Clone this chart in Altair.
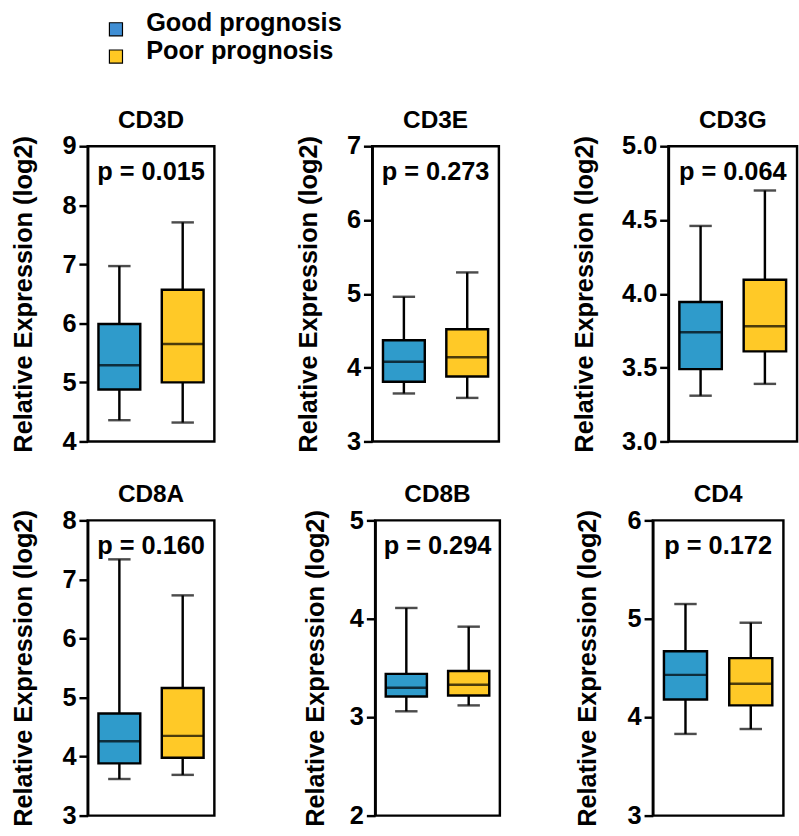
import altair as alt
import pandas as pd

FONT = "Liberation Sans"

groups = ["Good prognosis", "Poor prognosis"]
colors = ["#2F9BCB", "#FFC927"]
legend_colors = ["#3F8ED4", "#FFC923"]

genes = ["CD3D", "CD3E", "CD3G", "CD8A", "CD8B", "CD4"]
p_labels = ["p = 0.015", "p = 0.273", "p = 0.064", "p = 0.160", "p = 0.294", "p = 0.172"]
y_domains = [[4, 9], [3, 7], [3.0, 5.0], [3, 8], [2, 5], [3, 6]]
y_ticks = [[4, 5, 6, 7, 8, 9], [3, 4, 5, 6, 7], [3.0, 3.5, 4.0, 4.5, 5.0],
           [3, 4, 5, 6, 7, 8], [2, 3, 4, 5], [3, 4, 5, 6]]
y_formats = ["d", "d", ".1f", "d", "d", "d"]

# box-plot summaries (per gene): whisker low, Q1, median, Q3, whisker high
good_low = [4.36, 3.65, 3.31, 3.62, 3.06, 3.83]
good_q1 = [4.88, 3.81, 3.49, 3.885, 3.21, 4.18]
good_med = [5.29, 4.08, 3.74, 4.26, 3.30, 4.43]
good_q3 = [5.99, 4.37, 3.945, 4.73, 3.44, 4.67]
good_high = [6.97, 4.96, 4.46, 7.34, 4.11, 5.15]

poor_low = [4.32, 3.59, 3.39, 3.69, 3.12, 3.88]
poor_q1 = [5.00, 3.88, 3.61, 3.98, 3.22, 4.12]
poor_med = [5.65, 4.14, 3.78, 4.35, 3.33, 4.34]
poor_q3 = [6.57, 4.52, 4.095, 5.16, 3.47, 4.60]
poor_high = [7.71, 5.29, 4.70, 6.73, 3.92, 4.96]

# layout (pixels)
panel_w = [130, 130, 132, 130, 128, 134]
panel_h = 303
title_gap = [53, 52, 73, 53, 48, 54]
LW = 2.5

color_scale = alt.Scale(domain=groups, range=colors)
legend_scale = alt.Scale(domain=groups, range=legend_colors)


def panel(i):
    df = pd.DataFrame({
        "group": groups,
        "lo": [good_low[i], poor_low[i]],
        "q1": [good_q1[i], poor_q1[i]],
        "med": [good_med[i], poor_med[i]],
        "q3": [good_q3[i], poor_q3[i]],
        "hi": [good_high[i], poor_high[i]],
    })
    w = panel_w[i]
    band = w * 0.33
    yscale = alt.Scale(domain=y_domains[i], nice=False, zero=False)
    yaxis = alt.Axis(
        values=y_ticks[i], format=y_formats[i], title="Relative Expression (log2)",
        grid=False, tickSize=9, tickWidth=LW, domainWidth=LW, domainColor="black",
        tickColor="black", labelPadding=3, labelFontSize=26, labelFont=FONT,
        labelFontWeight="bold", labelColor="black", titleFontSize=26, titleFont=FONT,
        titleFontWeight="bold", titleColor="black",
        titleX=-title_gap[i], titleY=panel_h / 2, titleAngle=270,
        titleBaseline="bottom", titleAlign="center",
    )
    xenc = alt.X("group:N", scale=alt.Scale(domain=groups, paddingInner=0.34, paddingOuter=0.17), axis=None)
    base = alt.Chart(df).encode(x=xenc)
    whisk = base.mark_rule(color="black", strokeWidth=LW).encode(
        y=alt.Y("lo:Q", scale=yscale, axis=yaxis), y2="hi:Q")
    box = base.mark_bar(stroke="black", strokeWidth=LW).encode(
        y="q1:Q", y2="q3:Q", color=alt.Color("group:N", scale=color_scale, legend=None))
    med = base.mark_tick(color="black", thickness=LW, size=band).encode(y="med:Q")
    cap_lo = base.mark_tick(color="black", thickness=LW, size=23).encode(y="lo:Q")
    cap_hi = base.mark_tick(color="black", thickness=LW, size=23).encode(y="hi:Q")
    ptxt = alt.Chart(pd.DataFrame({"p": [p_labels[i]]})).mark_text(
        font=FONT, fontSize=26, fontWeight="bold", color="black", baseline="middle", align="center"
    ).encode(text="p:N", x=alt.value(w / 2), y=alt.value(27))
    return alt.layer(whisk, box, med, cap_lo, cap_hi, ptxt).properties(
        width=w, height=panel_h,
        title=alt.TitleParams(genes[i], fontSize=25, font=FONT, fontWeight="bold",
                              color="black", anchor="middle", frame="group", offset=1),
        view=alt.ViewBackground(stroke="black", strokeWidth=LW),
    )


legend_df = pd.DataFrame({"group": groups})
leg_y = alt.Y("group:N", scale=alt.Scale(domain=groups, type="point", padding=0, range=[11, 39]), axis=None)
leg_sq = alt.Chart(legend_df).mark_square(size=180, stroke="black", strokeWidth=1.2, opacity=1, yOffset=6).encode(
    y=leg_y, x=alt.value(29), fill=alt.Color("group:N", scale=legend_scale, legend=None))
leg_tx = alt.Chart(legend_df).mark_text(
    font=FONT, fontSize=26, fontWeight="bold", color="black", align="left", baseline="middle"
).encode(y=leg_y, x=alt.value(60), text="group:N")
legend = alt.layer(leg_sq, leg_tx).properties(width=380, height=70, view=alt.ViewBackground(stroke=None))

row1 = alt.hconcat(alt.hconcat(panel(0), panel(1), spacing=80), panel(2), spacing=71)
row2 = alt.hconcat(alt.hconcat(panel(3), panel(4), spacing=87), panel(5), spacing=73)

chart = alt.vconcat(legend, alt.vconcat(row1, row2, spacing=25), spacing=26).properties(
    padding={"left": 9, "top": 0, "right": 0, "bottom": 0}
).configure_view(stroke=None).configure(background="white")

chart.save("out.html", embed_options={"renderer": "svg", "actions": False})
